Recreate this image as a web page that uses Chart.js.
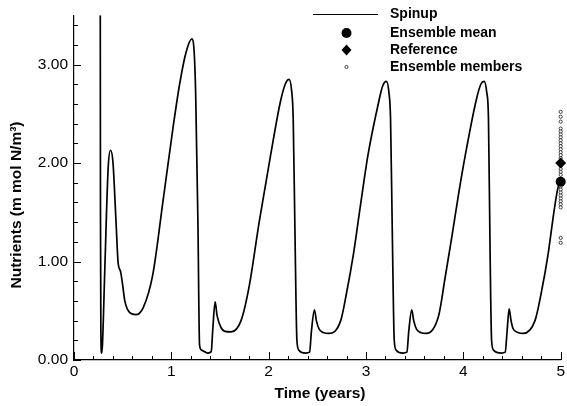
<!DOCTYPE html>
<html>
<head>
<meta charset="utf-8">
<script src="https://cdn.jsdelivr.net/npm/chart.js@4.4.0/dist/chart.umd.min.js"></script>
<style>
    html, body { margin: 0; padding: 0; background: #fff; }
    #wrap { width: 567px; height: 406px; }
</style>
</head>
<body>
<div id="wrap"><canvas id="nutrientChart" width="567" height="406"></canvas></div>
<script>
// spinup trajectory
const timeYears = [
    0.270, 0.272, 0.276, 0.283, 0.292, 0.317, 0.351, 0.375, 0.400, 0.430, 0.454, 0.478, 0.500, 0.522, 0.573, 0.635, 0.710, 0.810, 0.914, 1.016, 1.085, 1.150, 1.211,
    1.235, 1.250, 1.273, 1.290, 1.310, 1.375, 1.410, 1.425, 1.450, 1.470, 1.510, 1.550, 1.614, 1.716, 1.800, 1.904, 2.020, 2.120, 2.170, 2.210,
    2.235, 2.252, 2.270, 2.290, 2.310, 2.380, 2.420, 2.440, 2.470, 2.490, 2.520, 2.560, 2.620, 2.740, 2.800, 2.870, 2.940, 3.020, 3.130, 3.170, 3.210,
    3.235, 3.252, 3.270, 3.290, 3.310, 3.380, 3.420, 3.440, 3.470, 3.490, 3.520, 3.560, 3.620, 3.746, 3.810, 3.880, 3.950, 4.020, 4.135, 4.180, 4.215,
    4.240, 4.258, 4.275, 4.290, 4.310, 4.390, 4.430, 4.450, 4.470, 4.490, 4.510, 4.560, 4.615, 4.736, 4.800, 4.870, 4.930, 4.970, 5.000
];
const nutrients = [
    3.50, 1.50, 0.30, 0.07, 0.15, 0.94, 1.95, 2.13, 2.01, 1.44, 0.98, 0.90, 0.76, 0.60, 0.48, 0.46, 0.53, 0.87, 1.61, 2.35, 2.80, 3.12, 3.26,
    3.12, 2.70, 1.41, 0.15, 0.10, 0.07, 0.085, 0.30, 0.59, 0.45, 0.33, 0.29, 0.285, 0.40, 0.75, 1.41, 2.08, 2.62, 2.80, 2.85,
    2.74, 2.45, 1.30, 0.20, 0.10, 0.07, 0.08, 0.30, 0.51, 0.40, 0.31, 0.28, 0.27, 0.40, 0.68, 1.07, 1.55, 2.08, 2.62, 2.78, 2.83,
    2.72, 2.45, 1.30, 0.20, 0.10, 0.07, 0.08, 0.30, 0.51, 0.40, 0.31, 0.28, 0.27, 0.45, 0.82, 1.24, 1.68, 2.08, 2.65, 2.80, 2.83,
    2.72, 2.45, 1.07, 0.20, 0.10, 0.07, 0.08, 0.30, 0.52, 0.40, 0.32, 0.28, 0.27, 0.40, 0.68, 1.07, 1.50, 1.74, 1.82
];

const finalTime = 5;
const ensembleMean = 1.81;
const referenceValue = 2.00;
const ensembleMembers = [
    2.52, 2.47, 2.42, 2.35, 2.32, 2.29, 2.26, 2.23, 2.20, 2.17, 2.14, 2.11, 2.08, 2.05, 2.02,
    1.97, 1.94, 1.91, 1.88, 1.79, 1.76, 1.73, 1.70, 1.67, 1.64, 1.61, 1.58, 1.55, 1.24, 1.19
];

const xTicks = [0, 1, 2, 3, 4, 5];
const yTicks = [0, 1, 2, 3];
const legendLabels = ["Spinup", "Ensemble mean", "Reference", "Ensemble members"];

const FONT = "'Liberation Sans', Arial, Helvetica, sans-serif";

// ticks drawn inward, every 0.2
const inwardTicks = {
    id: 'inwardTicks',
    afterDraw(chart) {
        const ctx = chart.ctx;
        const xs = chart.scales.x, ys = chart.scales.y;
        const area = chart.chartArea;
        ctx.save();
        ctx.strokeStyle = '#000';
        ctx.lineWidth = 1;
        ctx.beginPath();
        for (let i = 0; i <= 25; i++) {
            const px = Math.round(xs.getPixelForValue(i * 0.2)) + 0.5;
            const len = i % 5 === 0 ? 8 : 4;
            ctx.moveTo(px, area.bottom);
            ctx.lineTo(px, area.bottom - len);
        }
        for (let i = 0; i <= 17; i++) {
            const py = Math.round(ys.getPixelForValue(i * 0.2)) + 0.5;
            const len = i % 5 === 0 ? 7 : 4;
            ctx.moveTo(area.left, py);
            ctx.lineTo(area.left + len, py);
        }
        ctx.stroke();
        ctx.restore();
    }
};

// axis titles and the legend box in the upper right
const titlesAndLegend = {
    id: 'titlesAndLegend',
    afterDraw(chart) {
        const ctx = chart.ctx;
        ctx.save();
        ctx.fillStyle = '#000';
        ctx.strokeStyle = '#000';

        ctx.font = "bold 15.5px " + FONT;
        ctx.textAlign = 'center';
        ctx.textBaseline = 'middle';
        ctx.fillText("Time (years)", 320, 394);

        ctx.save();
        ctx.translate(17, 205);
        ctx.rotate(-Math.PI / 2);
        ctx.fillText("Nutrients (m mol N/m\u00B3)", 0, 0);
        ctx.restore();

        const textX = 390, markX = 346.5;
        const rows = [14, 33, 50, 67];
        ctx.font = "bold 14px " + FONT;
        ctx.textAlign = 'left';
        legendLabels.forEach((lab, i) => ctx.fillText(lab, textX, rows[i]));

        ctx.lineWidth = 1.2;
        ctx.beginPath();
        ctx.moveTo(313, rows[0] + 0.5);
        ctx.lineTo(378, rows[0] + 0.5);
        ctx.stroke();

        ctx.beginPath();
        ctx.arc(markX, rows[1], 5, 0, Math.PI * 2);
        ctx.fill();

        ctx.beginPath();
        ctx.moveTo(markX, rows[2] - 5.5);
        ctx.lineTo(markX + 5, rows[2]);
        ctx.lineTo(markX, rows[2] + 5.5);
        ctx.lineTo(markX - 5, rows[2]);
        ctx.closePath();
        ctx.fill();

        ctx.lineWidth = 0.7;
        ctx.beginPath();
        ctx.arc(markX, rows[3], 1.6, 0, Math.PI * 2);
        ctx.stroke();
        ctx.restore();
    }
};

const spinupPoints = timeYears.map((t, i) => ({x: t, y: nutrients[i]}));
const memberPoints = ensembleMembers.map(v => ({x: finalTime, y: v}));

new Chart(document.getElementById('nutrientChart'), {
    type: 'scatter',
    data: {
        datasets: [
            {
                label: legendLabels[0],
                data: spinupPoints,
                showLine: true,
                borderColor: '#000',
                borderWidth: 1.7,
                pointRadius: 0,
                cubicInterpolationMode: 'monotone',
                order: 4
            },
            {
                label: legendLabels[3],
                data: memberPoints,
                pointStyle: 'circle',
                pointRadius: 1.6,
                backgroundColor: '#fff',
                borderColor: '#000',
                borderWidth: 0.7,
                clip: false,
                order: 3
            },
            {
                label: legendLabels[2],
                data: [{x: finalTime, y: referenceValue}],
                pointStyle: 'rectRot',
                pointRadius: 5.5,
                backgroundColor: '#000',
                borderColor: '#000',
                borderWidth: 0,
                clip: false,
                order: 2
            },
            {
                label: legendLabels[1],
                data: [{x: finalTime, y: ensembleMean}],
                pointStyle: 'circle',
                pointRadius: 5,
                backgroundColor: '#000',
                borderColor: '#000',
                borderWidth: 0,
                clip: false,
                order: 1
            }
        ]
    },
    options: {
        responsive: false,
        animation: false,
        layout: {padding: {top: 12, right: 4.5, left: 0, bottom: 0}},
        scales: {
            x: {
                type: 'linear',
                min: 0,
                max: 5,
                afterBuildTicks: s => { s.ticks = xTicks.map(v => ({value: v})); },
                afterFit: s => { s.height = 46; },
                grid: {display: false, drawTicks: false},
                border: {display: true, color: '#000', width: 1.2},
                ticks: {
                    color: '#000',
                    padding: 2,
                    font: {family: FONT, size: 15.5},
                    maxRotation: 0,
                    callback: v => String(v)
                }
            },
            y: {
                type: 'linear',
                min: 0,
                max: 3.5,
                afterBuildTicks: s => { s.ticks = yTicks.map(v => ({value: v})); },
                afterFit: s => { s.width = 74; },
                grid: {display: false, drawTicks: false},
                border: {display: true, color: '#000', width: 1.2},
                ticks: {
                    color: '#000',
                    padding: 6,
                    font: {family: FONT, size: 15.5},
                    callback: v => v.toFixed(2)
                }
            }
        },
        plugins: {
            legend: {display: false},
            tooltip: {enabled: false}
        }
    },
    plugins: [inwardTicks, titlesAndLegend]
});
</script>
</body>
</html>
